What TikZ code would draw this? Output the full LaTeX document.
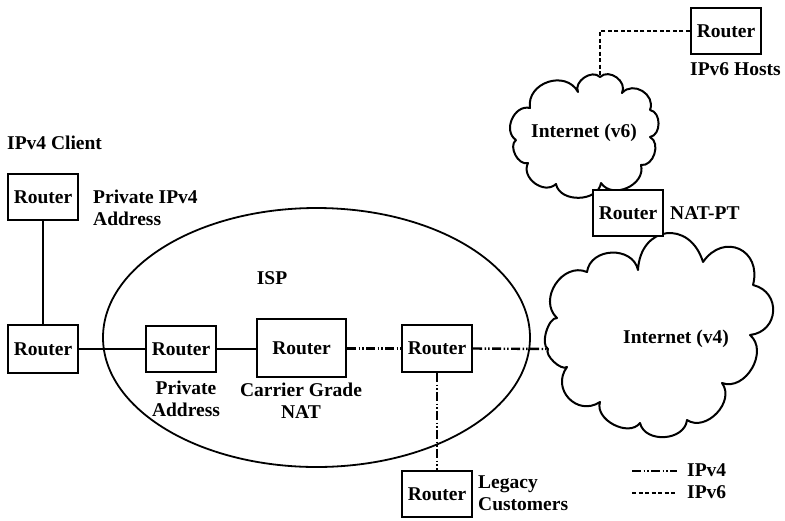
\documentclass[tikz,border=0pt]{standalone}
\usepackage{fontspec}
\setmainfont{Liberation Serif}
\begin{document}
\begin{tikzpicture}[x=1pt,y=-1pt,
  every node/.style={font=\fontsize{19.5}{22}\selectfont\bfseries, inner sep=0pt},
  router/.style={draw, line width=2.1pt, fill=white, minimum width=70pt, minimum height=46pt},
  wire/.style={line width=2.4pt},
  v4link/.style={line width=2.4pt, dash pattern=on 9pt off 2.5pt on 1.5pt off 2pt on 1.5pt off 2.5pt},
  v6link/.style={line width=2.4pt, dash pattern=on 4pt off 2.5pt},
  puff/.style={bend left=80, looseness=#1}, puff/.default=1.3,
  cloudline/.style={line width=2pt, line join=round, fill=white}
]
\useasboundingbox (0,0) rectangle (785,520);

% ISP region
\draw[line width=1.8pt] (316.5,337.5) ellipse [x radius=213.5pt, y radius=129.5pt];

% Internet (v6) cloud
\coordinate (v6top) at (600,77);
\draw[cloudline] (v6top) to[puff=1.2] (622,93) to[puff=1.3] (650,110) to[puff=1.1] (650,137)
  to[puff=1.1] (641,165) to[puff=1.2] (601,183) to[puff=1.1] (556,184) to[puff=1.2] (528,163)
  to[puff=1.0] (516,140) to[puff=1.2] (530,108) to[puff=1.3] (578,92) to[puff=1.1] (v6top) -- cycle;

% Internet (v4) cloud
\coordinate (v4left) at (548,349);
\draw[cloudline] (638,270) to[puff=1.75] (703,262) to[puff=1.7] (753,285) to[puff=1.5] (750,335)
  to[puff=1.15] (722,383) to[puff=1.15] (687,420) to[puff=1.15] (640,423) to[puff=1.05] (600,402)
  to[puff=1.45] (567,367) to[puff=0.7] (v4left) to[puff=0.7] (557,318) to[puff=1.25] (587,272)
  to[puff=1.25] (638,270) -- cycle;

% routers
\node[router] (rHost) at (726,31) {Router};
\node[router] (rNat) at (628,213) {Router};
\node[router] (rClient) at (43,197) {Router};
\node[router, minimum height=48pt] (rEdge) at (43,349) {Router};
\node[router] (rPriv) at (181,349) {Router};
\node[router, minimum width=89pt, minimum height=58pt] (rCgn) at (301.5,348) {Router};
\node[router, minimum height=47pt] (rIsp) at (437,348.5) {Router};
\node[router] (rLegacy) at (437,494) {Router};

% links
\draw[wire] (rClient.south) -- (rEdge.north);
\draw[wire] (rEdge.east) -- (rPriv.west);
\draw[wire] (rPriv.east) -- (rPriv.east -| rCgn.west);
\draw[v4link] (rCgn.east |- rIsp.west) -- (rIsp.west);
\draw[v4link] (rIsp.east) -- (v4left);
\draw[v4link] (rIsp.south) -- (rLegacy.north);
\draw[v6link] (rHost.west) -| (v6top);

% labels
\node[anchor=base west] (lblClient) at (7,149) {IPv4 Client};
\node[anchor=base west, align=left] (lblPrivV4) at (93,225) {Private IPv4\\Address};
\node[anchor=base, align=center] (lblPriv) at (186,416) {Private\\Address};
\node[anchor=base, align=center] (lblCgn) at (301,418) {Carrier Grade\\NAT};
\node[anchor=base west, align=left] (lblLegacy) at (478,510) {Legacy\\Customers};
\node[anchor=base west] (lblHosts) at (690,75) {IPv6 Hosts};
\node[anchor=base west] (lblNatpt) at (670,219) {NAT-PT};
\node (lblIsp) at (272,278) {ISP};
\node[anchor=base] (lblV6) at (584,137) {Internet (v6)};
\node[anchor=base] (lblV4) at (676,343) {Internet (v4)};

% legend
\coordinate (lg4a) at (632,471);
\coordinate (lg4b) at (677,471);
\coordinate (lg6a) at (632,493);
\coordinate (lg6b) at (677,493);
\draw[v4link] (lg4a) -- (lg4b);
\draw[v6link] (lg6a) -- (lg6b);
\node[anchor=base west] (lgV4) at (687,476) {IPv4};
\node[anchor=base west] (lgV6) at (687,498) {IPv6};
\end{tikzpicture}
\end{document}
